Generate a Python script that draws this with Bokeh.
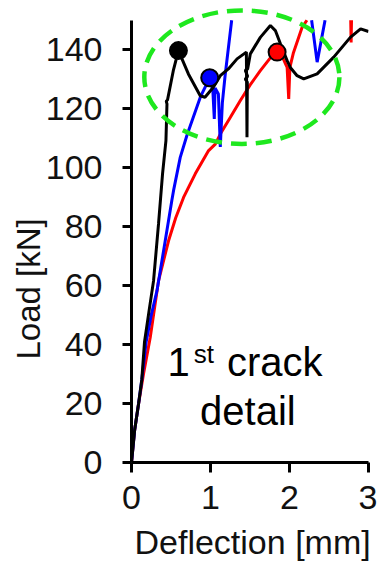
import numpy as np
from bokeh.plotting import figure
from bokeh.models import Range1d, FixedTicker, Title
from bokeh.core.properties import value
from bokeh.embed import file_html
from bokeh.resources import INLINE

nan = np.nan

# ---- data ----
x_ticks = [0, 1, 2, 3]
y_ticks = [0, 20, 40, 60, 80, 100, 120, 140]

black_x = [0, 0.04, 0.09, 0.13, 0.165, 0.22, 0.279, 0.342, 0.393, 0.436, 0.449, 0.44, 0.456,
           0.529, 0.594, 0.72, 0.87, 0.93, 1.036, 1.124, 1.226, 1.336, 1.454, 1.462, 1.466,
           1.44, 1.47, 1.44, 1.47, 1.504, 1.631, 1.758, 1.821, 1.885, 1.97, 2.01, 2.096, 2.18,
           2.35, 2.56, 2.77, 2.90, 3.0]
black_y = [0, 11, 20, 28, 41, 51, 61.6, 80.9, 97.9, 109.2, 121.6, 122.5, 123,
           132.9, 139.7, 131.8, 124.4, 123.9, 127.3, 131.2, 133.5, 136.9, 139.2, 110.3, 129,
           130, 131, 133, 133.5, 138.6, 144.2, 148.2, 146.5, 142, 136.3, 134, 131.2, 130.1,
           131.8, 137.5, 144.2, 147.1, 146.2]

blue_x = [0, 0.04, 0.09, 0.13, 0.186, 0.25, 0.322, 0.427, 0.51, 0.532, 0.617, 0.702, 0.871,
          0.99, 1.03, 1.048, 1.058, 1.10, 1.124, 1.15, 1.184, 1.268, nan, 2.28, 2.35, 2.45]
blue_y = [0, 11, 20, 28, 41, 50, 58.2, 75.2, 88.8, 92.2, 103.5, 111, 123.9,
          130.5, 126, 116.5, 127, 125, 107, 122, 131, 150, nan, 150, 135.8, 150]

red_x = [0, 0.038, 0.089, 0.152, 0.237, 0.342, 0.469, 0.56, 0.659, 0.807, 0.976, 1.061,
         1.124, 1.25, 1.378, 1.50, 1.631, 1.75, 1.843, 1.92, 1.97, 1.99, 2.005, 2.05, 2.16,
         2.22, nan, 2.775, 2.78, 2.785]
red_y = [0, 10.7, 19.8, 30, 42.4, 61.6, 75.2, 83, 89.9, 97.9, 105.8, 108,
         111.4, 117, 122.8, 128, 132.9, 137, 139.2, 137, 134, 123.3, 134, 139, 147.6,
         150, nan, 150, 142.5, 150]

crack_x = [0.594, 0.99, 1.843]
crack_y = [139.7, 130.5, 139.2]
crack_colors = ["black", "#0000FF", "#FF0000"]

FONT = "Liberation Sans"
TXT = "#111111"

p = figure(width=377, height=570, x_range=Range1d(0, 3), y_range=Range1d(0, 156.7),
           output_backend="svg", toolbar_location=None,
           min_border_left=131, min_border_right=9, min_border_top=0, min_border_bottom=108)
p.grid.visible = False
p.outline_line_color = None
p.background_fill_color = "white"
p.border_fill_color = "white"

for ax in (p.xaxis[0], p.yaxis[0]):
    ax.axis_line_width = 3
    ax.axis_line_color = "black"
    ax.major_tick_line_width = 3
    ax.major_tick_line_color = "black"
    ax.major_tick_in = 0
    ax.minor_tick_line_color = None
    ax.major_label_text_font = FONT
    ax.major_label_text_font_size = "34px"
    ax.major_label_text_color = TXT

p.xaxis.ticker = FixedTicker(ticks=x_ticks)
p.yaxis.ticker = FixedTicker(ticks=y_ticks)
p.yaxis.bounds = (0, 150)
p.xaxis.major_tick_out = 10
p.yaxis.major_tick_out = 9
p.xaxis.major_label_standoff = 13
p.yaxis.major_label_standoff = 20

# axis titles (as side titles so they can be shifted like in the reference)
p.add_layout(Title(text="Deflection [mm]", align="left", offset=3, standoff=18,
                   text_font=FONT, text_font_size="34px", text_font_style="normal",
                   text_color=TXT), "below")
p.add_layout(Title(text="Load [kN]", align="left", offset=103, standoff=-8,
                   text_font=FONT, text_font_size="33px", text_font_style="normal",
                   text_color=TXT), "left")

p.line(red_x, red_y, line_color="#FF0000", line_width=3)
p.line(blue_x, blue_y, line_color="#0000FF", line_width=3)
p.line(black_x, black_y, line_color="black", line_width=3)

p.scatter(crack_x, crack_y, size=17, fill_color=crack_colors, line_color="black", line_width=2)

# annotation text
p.text(x=[0.455], y=[34.2], text=["1"], text_font=value(FONT), text_font_size="40px",
       text_align="left", text_baseline="alphabetic", text_color="black")
p.text(x=[0.455], y=[34.2], text=["st"], text_font=value(FONT), text_font_size="26px",
       text_align="left", text_baseline="alphabetic", text_color="black",
       x_offset=26.3, y_offset=-8)
p.text(x=[0.455], y=[34.2], text=["crack"], text_font=value(FONT), text_font_size="40px",
       text_align="left", text_baseline="alphabetic", text_color="black", x_offset=59.5)
p.text(x=[1.473], y=[17.4], text=["detail"], text_font=value(FONT), text_font_size="40px",
       text_align="center", text_baseline="alphabetic", text_color="black")

# green dashed highlight ellipse
p.ellipse(x=[1.397], y=[130.7], width=[2.47], height=[45.3], fill_color=None,
          line_color="#1EE81E", line_width=4.5, line_dash="16 9")

open("out.html", "w").write(file_html(p, INLINE))
